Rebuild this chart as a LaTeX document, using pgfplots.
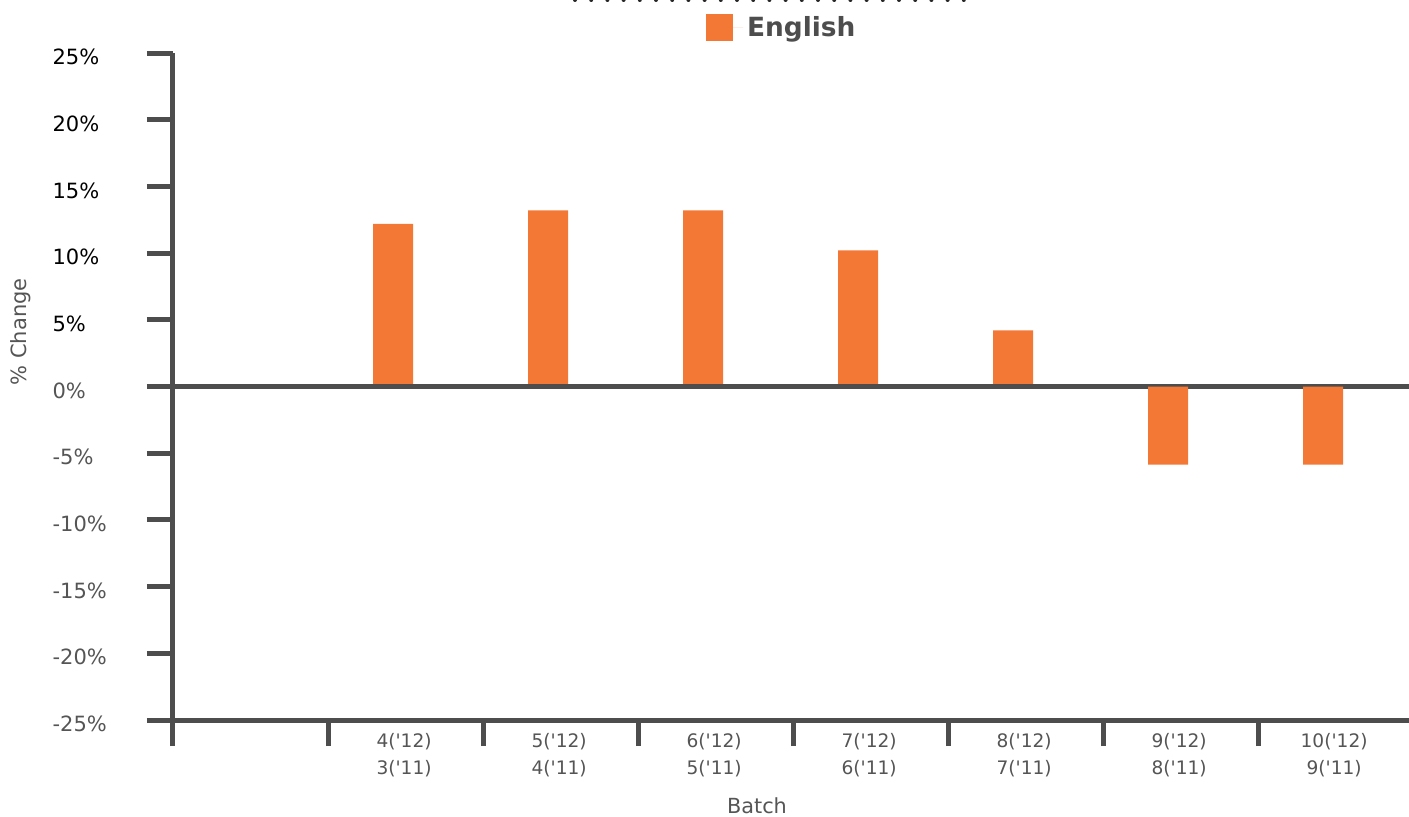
\documentclass[border=0pt]{standalone}
\usepackage{pgfplots}
\pgfplotsset{compat=1.18}
\usepackage{fontspec}
\setmainfont{DejaVu Sans}
\newfontfamily\dv{DejaVu Sans}
\definecolor{barorange}{HTML}{F47835}
\definecolor{axisgray}{HTML}{4D4D4D}
\definecolor{labelgray}{HTML}{555555}
\begin{document}
\begin{tikzpicture}
\useasboundingbox (0,0) rectangle (704.5pt,408pt);
\draw[line width=2pt, line cap=round, dash pattern=on 0pt off 8.1pt, black!85] (287.5pt,408pt) -- (482pt,408pt);
\begin{axis}[
  at={(86.5pt,48pt)}, anchor=south west,
  scale only axis, width=618pt, height=333.5pt,
  xmin=0, xmax=7.974, ymin=-25, ymax=25,
  axis lines=left,
  axis line style={-, line width=2.5pt, axisgray},
  every tick/.style={line width=2.5pt, axisgray},
  tick align=outside, major tick length=13pt,
  xtick={0,1,...,7}, xticklabels={},
  extra x ticks={1.5,2.5,3.5,4.5,5.5,6.5,7.5},
  extra x tick labels={{4('12)\\3('11)},{5('12)\\4('11)},{6('12)\\5('11)},{7('12)\\6('11)},{8('12)\\7('11)},{9('12)\\8('11)},{10('12)\\9('11)}},
  extra x tick style={major tick length=0pt, tick label style={align=center, inner sep=0pt, anchor=north, yshift=-6.5pt, xshift=-0.7pt, font=\dv\fontsize{9.3}{13.5}\selectfont, text=labelgray}},
  ytick={-25,-20,...,25},
  /pgf/number format/assume math mode=true,
  yticklabel={\pgfmathtruncatemacro\pos{\tick>0}\ifnum\pos=1 \color{black}\else\color{labelgray}\fi\pgfmathprintnumber{\tick}\%},
  yticklabel style={font=\fontsize{10.5}{12}\selectfont, text width=47pt, align=left, inner sep=0pt, anchor=east, yshift=-2pt},
  ylabel={\% Change},
  ylabel style={at={(axis description cs:-0.123,0.582)}, anchor=center, font=\fontsize{10.5}{12}\selectfont, text=labelgray},
  xlabel={Batch},
  xlabel style={at={(axis description cs:0.4725,-0.129)}, anchor=center, font=\fontsize{10.4}{12}\selectfont, text=labelgray},
  legend style={at={(axis description cs:0.431,1.038)}, anchor=west, draw=none, fill=none, inner sep=0pt, font=\fontsize{13.2}{15}\selectfont\bfseries, text=axisgray},
]
\addplot[ybar, bar width=20pt, fill=barorange, draw=none,
  legend image code/.code={\fill[barorange] (0pt,-6.75pt) rectangle (13.5pt,6.75pt); \path (0pt,0pt) -- (18.5pt,0pt);}]
  coordinates {(1.42,12.2) (2.42,13.2) (3.42,13.2) (4.42,10.2) (5.42,4.2)};
\addlegendentry{English}
\draw[line width=2.5pt, axisgray] (axis cs:0,0) -- (axis cs:7.974,0);
\addplot[ybar, bar width=20pt, fill=barorange, draw=none, forget plot]
  coordinates {(6.42,-5.85) (7.42,-5.85)};
\end{axis}
\end{tikzpicture}
\end{document}
